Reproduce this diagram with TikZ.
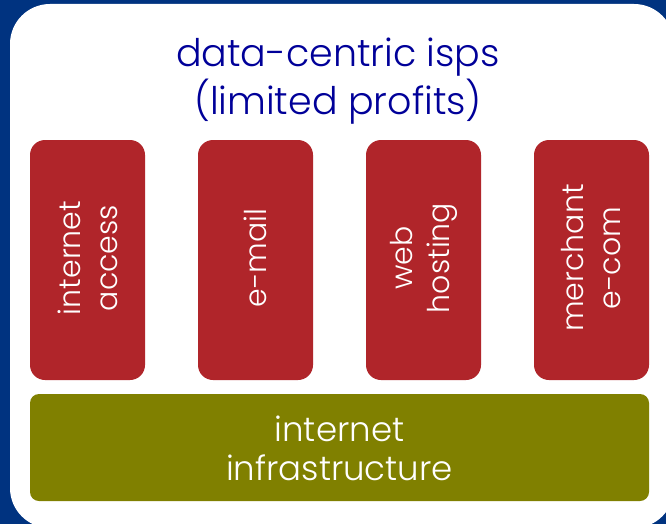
\documentclass[tikz,border=0pt]{standalone}
\usepackage{fontspec}
\setmainfont{Poppins}[UprightFont={* Light}]
\definecolor{bgblue}{HTML}{003380}
\definecolor{titleblue}{HTML}{000099}
\definecolor{boxred}{HTML}{B0252A}
\definecolor{boxolive}{HTML}{808000}
\begin{document}
\begin{tikzpicture}[x=1pt,y=-1pt,
  pillar/.style={fill=boxred, rounded corners=15pt},
  pillartext/.style={text=white, rotate=90, align=center, font=\fontsize{30}{37}\selectfont},
  basebar/.style={fill=boxolive, rounded corners=9pt},
  basetext/.style={text=white, align=center, font=\fontsize{34}{39}\selectfont},
  titletext/.style={text=titleblue, align=center, font=\fontsize{38}{48}\selectfont}]
\useasboundingbox (0,0) rectangle (666,524);
\fill[bgblue] (0,0) rectangle (666,524);
\fill[white, rounded corners=40pt] (10,4) rectangle (674,528);
\node[titletext] (title) at (338,81) {data-centric isps\\(limited profits)};
\fill[pillar] (30,140) rectangle (145,380);
\fill[pillar] (198,140) rectangle (313,380);
\fill[pillar] (366,140) rectangle (481,380);
\fill[pillar] (534,140) rectangle (649,380);
\node[pillartext] (p1) at (87.5,258) {internet\\access};
\node[pillartext] (p2) at (255.5,258) {e-mail};
\node[pillartext] (p3) at (423.5,258) {web\\hosting};
\node[pillartext] (p4) at (591.5,258) {merchant\\e-com};
\fill[basebar] (30,394) rectangle (649,501);
\node[basetext] (base) at (339.5,448) {internet\\infrastructure};
\end{tikzpicture}
\end{document}
